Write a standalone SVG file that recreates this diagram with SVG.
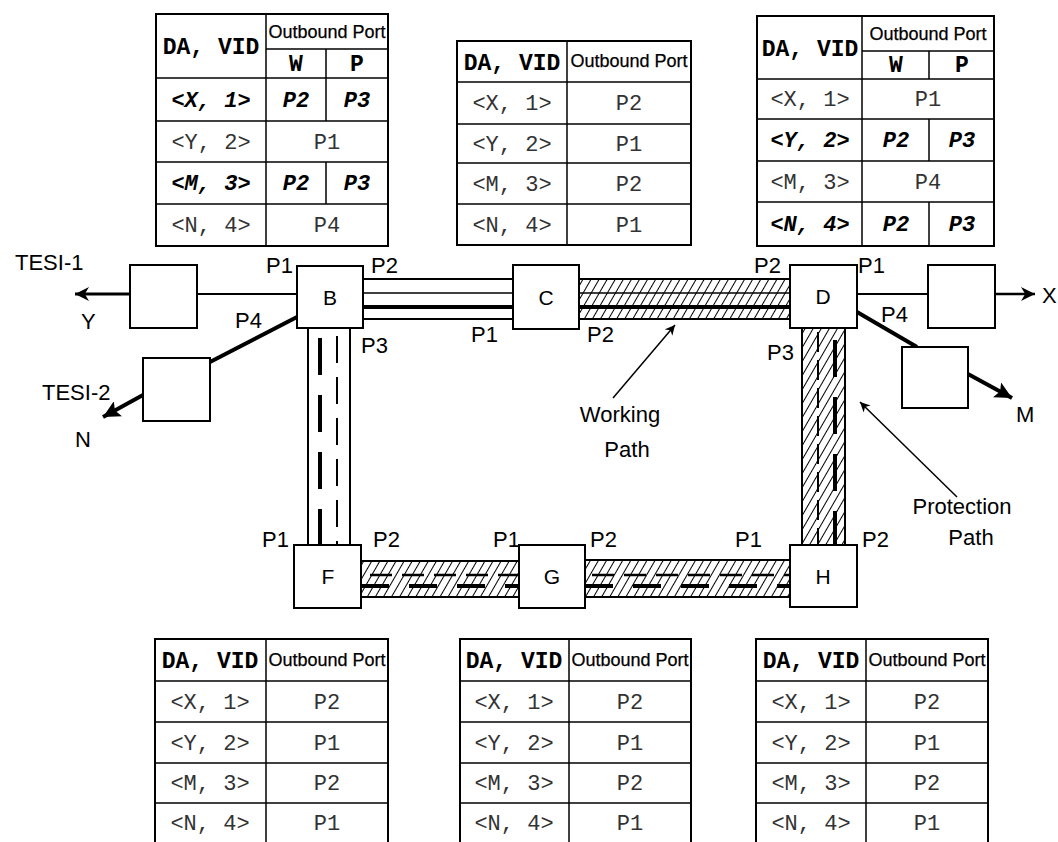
<svg xmlns="http://www.w3.org/2000/svg" width="1058" height="842" viewBox="0 0 1058 842">
<style>
.box{fill:#fff;stroke:#000;stroke-width:2}
.lbl{font-family:"Liberation Sans",Arial,sans-serif;font-size:22px;fill:#000}
.nl{font-family:"Liberation Sans",Arial,sans-serif;font-size:21px;fill:#000;text-anchor:middle}
.tb{fill:#fff;stroke:#000;stroke-width:2}
.tl{stroke:#000;stroke-width:1.5;fill:none}
.hdr{font-family:"Liberation Mono","Courier New",monospace;font-weight:bold;font-size:23px;text-anchor:middle;fill:#000}
.ob{font-family:"Liberation Sans",Arial,sans-serif;font-size:18px;text-anchor:middle;fill:#000;stroke:#000;stroke-width:0.25}
.cell{font-family:"Liberation Mono","Courier New",monospace;font-size:22px;text-anchor:middle;fill:#333}
.bi{font-weight:bold;font-style:italic;fill:#000}
.ln{stroke:#000;fill:none}
</style>
<defs>
<pattern id="hatch" patternUnits="userSpaceOnUse" width="7" height="10" patternTransform="rotate(30)">
<rect width="7" height="10" fill="#fff"/>
<line x1="0.5" y1="0" x2="0.5" y2="10" stroke="#000" stroke-width="1"/>
</pattern>
<marker id="ah" viewBox="0 0 10 10" refX="10" refY="5" markerWidth="16" markerHeight="14" markerUnits="userSpaceOnUse" orient="auto">
<path d="M0,0 L10,5 L0,10 L3,5 z" fill="#000"/>
</marker>
<marker id="ahb" viewBox="0 0 10 10" refX="10" refY="5" markerWidth="19" markerHeight="17" markerUnits="userSpaceOnUse" orient="auto">
<path d="M0,0 L10,5 L0,10 L2,5 z" fill="#000"/>
</marker>
<marker id="ahs" viewBox="0 0 10 10" refX="10" refY="5" markerWidth="11" markerHeight="10" markerUnits="userSpaceOnUse" orient="auto">
<path d="M0,0 L10,5 L0,10 L3,5 z" fill="#000"/>
</marker>
</defs>
<rect width="1058" height="842" fill="#fff"/>

<!-- connectors -->
<g id="connectors">
<line class="ln" x1="197" y1="294" x2="297" y2="294" stroke-width="2"/>
<line class="ln" x1="130" y1="294" x2="75" y2="294" stroke-width="3" marker-end="url(#ah)"/>
<line class="ln" x1="297" y1="317" x2="210" y2="362" stroke-width="4"/>
<line class="ln" x1="143" y1="395" x2="103" y2="417" stroke-width="4" marker-end="url(#ahb)"/>
<line class="ln" x1="857" y1="294" x2="928" y2="294" stroke-width="2"/>
<line class="ln" x1="995" y1="294" x2="1035" y2="294" stroke-width="2.5" marker-end="url(#ah)"/>
<line class="ln" x1="857" y1="312" x2="917" y2="347" stroke-width="4"/>
<line class="ln" x1="968" y1="374" x2="1012" y2="398" stroke-width="4" marker-end="url(#ahb)"/>

<g id="link-BC">
<line class="ln" x1="363" y1="279" x2="513" y2="279" stroke-width="2"/>
<line class="ln" x1="363" y1="293" x2="513" y2="293" stroke-width="1.5"/>
<line class="ln" x1="363" y1="307" x2="513" y2="307" stroke-width="4"/>
<line class="ln" x1="363" y1="319" x2="513" y2="319" stroke-width="2"/>
</g>
<g id="link-CD">
<rect x="579" y="279" width="211" height="40" fill="url(#hatch)"/>
<line class="ln" x1="579" y1="279" x2="790" y2="279" stroke-width="2"/>
<line class="ln" x1="579" y1="293" x2="790" y2="293" stroke-width="1.5"/>
<line class="ln" x1="579" y1="307" x2="793" y2="307" stroke-width="4"/>
<line class="ln" x1="579" y1="319" x2="790" y2="319" stroke-width="2"/>
</g>
<g id="link-BF">
<line class="ln" x1="308" y1="328" x2="308" y2="545" stroke-width="2"/>
<line class="ln" x1="350" y1="328" x2="350" y2="545" stroke-width="2"/>
<line class="ln" x1="320" y1="338" x2="320" y2="545" stroke-width="4" stroke-dasharray="37 20"/>
<line class="ln" x1="337" y1="336" x2="337" y2="545" stroke-width="2" stroke-dasharray="27 14"/>
</g>
<g id="link-DH">
<rect x="802" y="328" width="43" height="217" fill="url(#hatch)"/>
<line class="ln" x1="802" y1="328" x2="802" y2="545" stroke-width="2"/>
<line class="ln" x1="845" y1="328" x2="845" y2="545" stroke-width="2"/>
<line class="ln" x1="818" y1="332" x2="818" y2="545" stroke-width="2" stroke-dasharray="20 8"/>
<line class="ln" x1="835" y1="340" x2="835" y2="547" stroke-width="4" stroke-dasharray="37 20"/>
</g>
<g id="link-FG">
<rect x="361" y="561" width="158" height="36" fill="url(#hatch)"/>
<line class="ln" x1="361" y1="561" x2="519" y2="561" stroke-width="2"/>
<line class="ln" x1="361" y1="597" x2="519" y2="597" stroke-width="2"/>
<line class="ln" x1="370" y1="575" x2="519" y2="575" stroke-width="2.5" stroke-dasharray="22 10"/>
<line class="ln" x1="361" y1="586" x2="519" y2="586" stroke-width="4" stroke-dasharray="28 20"/>
</g>
<g id="link-GH">
<rect x="585" y="560" width="205" height="37" fill="url(#hatch)"/>
<line class="ln" x1="585" y1="560" x2="790" y2="560" stroke-width="2"/>
<line class="ln" x1="585" y1="597" x2="790" y2="597" stroke-width="2"/>
<line class="ln" x1="592" y1="575" x2="790" y2="575" stroke-width="2.5" stroke-dasharray="22 10"/>
<line class="ln" x1="585" y1="586" x2="790" y2="586" stroke-width="4" stroke-dasharray="28 20"/>
</g>
<line class="ln" x1="613" y1="398" x2="675" y2="325" stroke-width="1.5" marker-end="url(#ahs)"/>
<line class="ln" x1="957" y1="497" x2="860" y2="402" stroke-width="1.5" marker-end="url(#ahs)"/>
</g>

<!-- nodes -->
<g id="node-B"><rect class="box" x="297" y="266" width="66" height="62"/><text class="nl" x="330" y="305">B</text></g>
<g id="node-C"><rect class="box" x="513" y="265" width="66" height="64"/><text class="nl" x="546" y="305">C</text></g>
<g id="node-D"><rect class="box" x="790" y="265" width="67" height="63"/><text class="nl" x="823" y="304">D</text></g>
<g id="node-F"><rect class="box" x="294" y="545" width="67" height="63"/><text class="nl" x="328" y="584">F</text></g>
<g id="node-G"><rect class="box" x="519" y="545" width="66" height="63"/><text class="nl" x="552" y="584">G</text></g>
<g id="node-H"><rect class="box" x="790" y="545" width="67" height="62"/><text class="nl" x="823" y="584">H</text></g>
<g id="node-tesi1"><rect class="box" x="130" y="265" width="67" height="63"/></g>
<g id="node-tesi2"><rect class="box" x="143" y="358" width="67" height="63"/></g>
<g id="node-xbox"><rect class="box" x="928" y="265" width="67" height="63"/></g>
<g id="node-mbox"><rect class="box" x="902" y="347" width="66" height="61"/></g>

<g id="labels">
<text class="lbl" x="15" y="270">TESI-1</text>
<text class="lbl" x="81" y="329">Y</text>
<text class="lbl" x="42" y="400">TESI-2</text>
<text class="lbl" x="75" y="447">N</text>
<text class="lbl" x="266" y="273">P1</text>
<text class="lbl" x="235" y="328">P4</text>
<text class="lbl" x="371" y="273">P2</text>
<text class="lbl" x="361" y="353">P3</text>
<text class="lbl" x="471" y="342">P1</text>
<text class="lbl" x="587" y="342">P2</text>
<text class="lbl" x="754" y="273">P2</text>
<text class="lbl" x="767" y="360">P3</text>
<text class="lbl" x="858" y="273">P1</text>
<text class="lbl" x="881" y="322">P4</text>
<text class="lbl" x="1042" y="303">X</text>
<text class="lbl" x="1016" y="422">M</text>
<text class="lbl" x="262" y="547">P1</text>
<text class="lbl" x="373" y="547">P2</text>
<text class="lbl" x="493" y="547">P1</text>
<text class="lbl" x="590" y="547">P2</text>
<text class="lbl" x="735" y="547">P1</text>
<text class="lbl" x="862" y="547">P2</text>
<text class="lbl" x="620" y="422" text-anchor="middle">Working</text>
<text class="lbl" x="627" y="457" text-anchor="middle">Path</text>
<text class="lbl" x="962" y="514" text-anchor="middle">Protection</text>
<text class="lbl" x="971" y="545" text-anchor="middle">Path</text>
</g>

<g id="table-B">
<rect class="tb" x="156" y="14" width="232" height="232"/>
<line class="tl" x1="266" y1="14" x2="266" y2="246"/>
<line class="tl" x1="266" y1="49" x2="388" y2="49"/>
<line class="tl" x1="326" y1="49" x2="326" y2="121"/>
<line class="tl" x1="326" y1="162" x2="326" y2="204"/>
<line class="tl" x1="156" y1="78" x2="388" y2="78" stroke-width="2.5"/>
<line class="tl" x1="156" y1="121" x2="388" y2="121"/>
<line class="tl" x1="156" y1="162" x2="388" y2="162" stroke-width="2.5"/>
<line class="tl" x1="156" y1="204" x2="388" y2="204" stroke-width="2.5"/>
<text class="hdr" x="211" y="54">DA, VID</text>
<text class="ob" x="327" y="38">Outbound Port</text>
<text class="hdr" x="296" y="71" font-size="21">W</text>
<text class="hdr" x="357" y="71" font-size="21">P</text>
<text class="cell bi" x="211" y="107">&lt;X, 1&gt;</text>
<text class="cell bi" x="296" y="107">P2</text>
<text class="cell bi" x="357" y="107">P3</text>
<text class="cell" x="211" y="149">&lt;Y, 2&gt;</text>
<text class="cell" x="327" y="149">P1</text>
<text class="cell bi" x="211" y="190">&lt;M, 3&gt;</text>
<text class="cell bi" x="296" y="190">P2</text>
<text class="cell bi" x="357" y="190">P3</text>
<text class="cell" x="211" y="232">&lt;N, 4&gt;</text>
<text class="cell" x="327" y="232">P4</text>
</g>

<g id="table-C">
<rect class="tb" x="457" y="41" width="234" height="204"/>
<line class="tl" x1="567" y1="41" x2="567" y2="245"/>
<line class="tl" x1="457" y1="82" x2="691" y2="82"/>
<line class="tl" x1="457" y1="124" x2="691" y2="124"/>
<line class="tl" x1="457" y1="163" x2="691" y2="163"/>
<line class="tl" x1="457" y1="204" x2="691" y2="204" stroke-width="2.5"/>
<text class="hdr" x="512" y="70">DA, VID</text>
<text class="ob" x="629" y="67">Outbound Port</text>
<text class="cell" x="512" y="110">&lt;X, 1&gt;</text>
<text class="cell" x="629" y="110">P2</text>
<text class="cell" x="512" y="151">&lt;Y, 2&gt;</text>
<text class="cell" x="629" y="151">P1</text>
<text class="cell" x="512" y="191">&lt;M, 3&gt;</text>
<text class="cell" x="629" y="191">P2</text>
<text class="cell" x="512" y="232">&lt;N, 4&gt;</text>
<text class="cell" x="629" y="232">P1</text>
</g>

<g id="table-D">
<rect class="tb" x="757" y="16" width="237" height="230"/>
<line class="tl" x1="862" y1="16" x2="862" y2="246"/>
<line class="tl" x1="862" y1="51" x2="994" y2="51"/>
<line class="tl" x1="929" y1="51" x2="929" y2="79"/>
<line class="tl" x1="929" y1="119" x2="929" y2="161"/>
<line class="tl" x1="929" y1="202" x2="929" y2="246"/>
<line class="tl" x1="757" y1="79" x2="994" y2="79" stroke-width="2.5"/>
<line class="tl" x1="757" y1="119" x2="994" y2="119"/>
<line class="tl" x1="757" y1="161" x2="994" y2="161"/>
<line class="tl" x1="757" y1="202" x2="994" y2="202" stroke-width="2.5"/>
<text class="hdr" x="810" y="56">DA, VID</text>
<text class="ob" x="928" y="40">Outbound Port</text>
<text class="hdr" x="896" y="72" font-size="21">W</text>
<text class="hdr" x="962" y="72" font-size="21">P</text>
<text class="cell" x="810" y="106">&lt;X, 1&gt;</text>
<text class="cell" x="928" y="106">P1</text>
<text class="cell bi" x="810" y="147">&lt;Y, 2&gt;</text>
<text class="cell bi" x="896" y="147">P2</text>
<text class="cell bi" x="962" y="147">P3</text>
<text class="cell" x="810" y="189">&lt;M, 3&gt;</text>
<text class="cell" x="928" y="189">P4</text>
<text class="cell bi" x="810" y="231">&lt;N, 4&gt;</text>
<text class="cell bi" x="896" y="231">P2</text>
<text class="cell bi" x="962" y="231">P3</text>
</g>

<g id="table-F">
<rect class="tb" x="155" y="639" width="233" height="210"/>
<line class="tl" x1="266" y1="639" x2="266" y2="842"/>
<line class="tl" x1="155" y1="681" x2="388" y2="681"/>
<line class="tl" x1="155" y1="722" x2="388" y2="722"/>
<line class="tl" x1="155" y1="763" x2="388" y2="763"/>
<line class="tl" x1="155" y1="803" x2="388" y2="803" stroke-width="2.5"/>
<text class="hdr" x="210" y="668">DA, VID</text>
<text class="ob" x="327" y="666">Outbound Port</text>
<text class="cell" x="210" y="709">&lt;X, 1&gt;</text>
<text class="cell" x="327" y="709">P2</text>
<text class="cell" x="210" y="750">&lt;Y, 2&gt;</text>
<text class="cell" x="327" y="750">P1</text>
<text class="cell" x="210" y="790">&lt;M, 3&gt;</text>
<text class="cell" x="327" y="790">P2</text>
<text class="cell" x="210" y="830">&lt;N, 4&gt;</text>
<text class="cell" x="327" y="830">P1</text>
</g>

<g id="table-G">
<rect class="tb" x="460" y="639" width="231" height="210"/>
<line class="tl" x1="569" y1="639" x2="569" y2="842"/>
<line class="tl" x1="460" y1="681" x2="691" y2="681"/>
<line class="tl" x1="460" y1="722" x2="691" y2="722"/>
<line class="tl" x1="460" y1="763" x2="691" y2="763"/>
<line class="tl" x1="460" y1="803" x2="691" y2="803" stroke-width="2.5"/>
<text class="hdr" x="514" y="668">DA, VID</text>
<text class="ob" x="630" y="666">Outbound Port</text>
<text class="cell" x="514" y="709">&lt;X, 1&gt;</text>
<text class="cell" x="630" y="709">P2</text>
<text class="cell" x="514" y="750">&lt;Y, 2&gt;</text>
<text class="cell" x="630" y="750">P1</text>
<text class="cell" x="514" y="790">&lt;M, 3&gt;</text>
<text class="cell" x="630" y="790">P2</text>
<text class="cell" x="514" y="830">&lt;N, 4&gt;</text>
<text class="cell" x="630" y="830">P1</text>
</g>

<g id="table-H">
<rect class="tb" x="756" y="639" width="232" height="210"/>
<line class="tl" x1="866" y1="639" x2="866" y2="842"/>
<line class="tl" x1="756" y1="681" x2="988" y2="681"/>
<line class="tl" x1="756" y1="722" x2="988" y2="722"/>
<line class="tl" x1="756" y1="763" x2="988" y2="763"/>
<line class="tl" x1="756" y1="803" x2="988" y2="803" stroke-width="2.5"/>
<text class="hdr" x="811" y="668">DA, VID</text>
<text class="ob" x="927" y="666">Outbound Port</text>
<text class="cell" x="811" y="709">&lt;X, 1&gt;</text>
<text class="cell" x="927" y="709">P2</text>
<text class="cell" x="811" y="750">&lt;Y, 2&gt;</text>
<text class="cell" x="927" y="750">P1</text>
<text class="cell" x="811" y="790">&lt;M, 3&gt;</text>
<text class="cell" x="927" y="790">P2</text>
<text class="cell" x="811" y="830">&lt;N, 4&gt;</text>
<text class="cell" x="927" y="830">P1</text>
</g>
</svg>
